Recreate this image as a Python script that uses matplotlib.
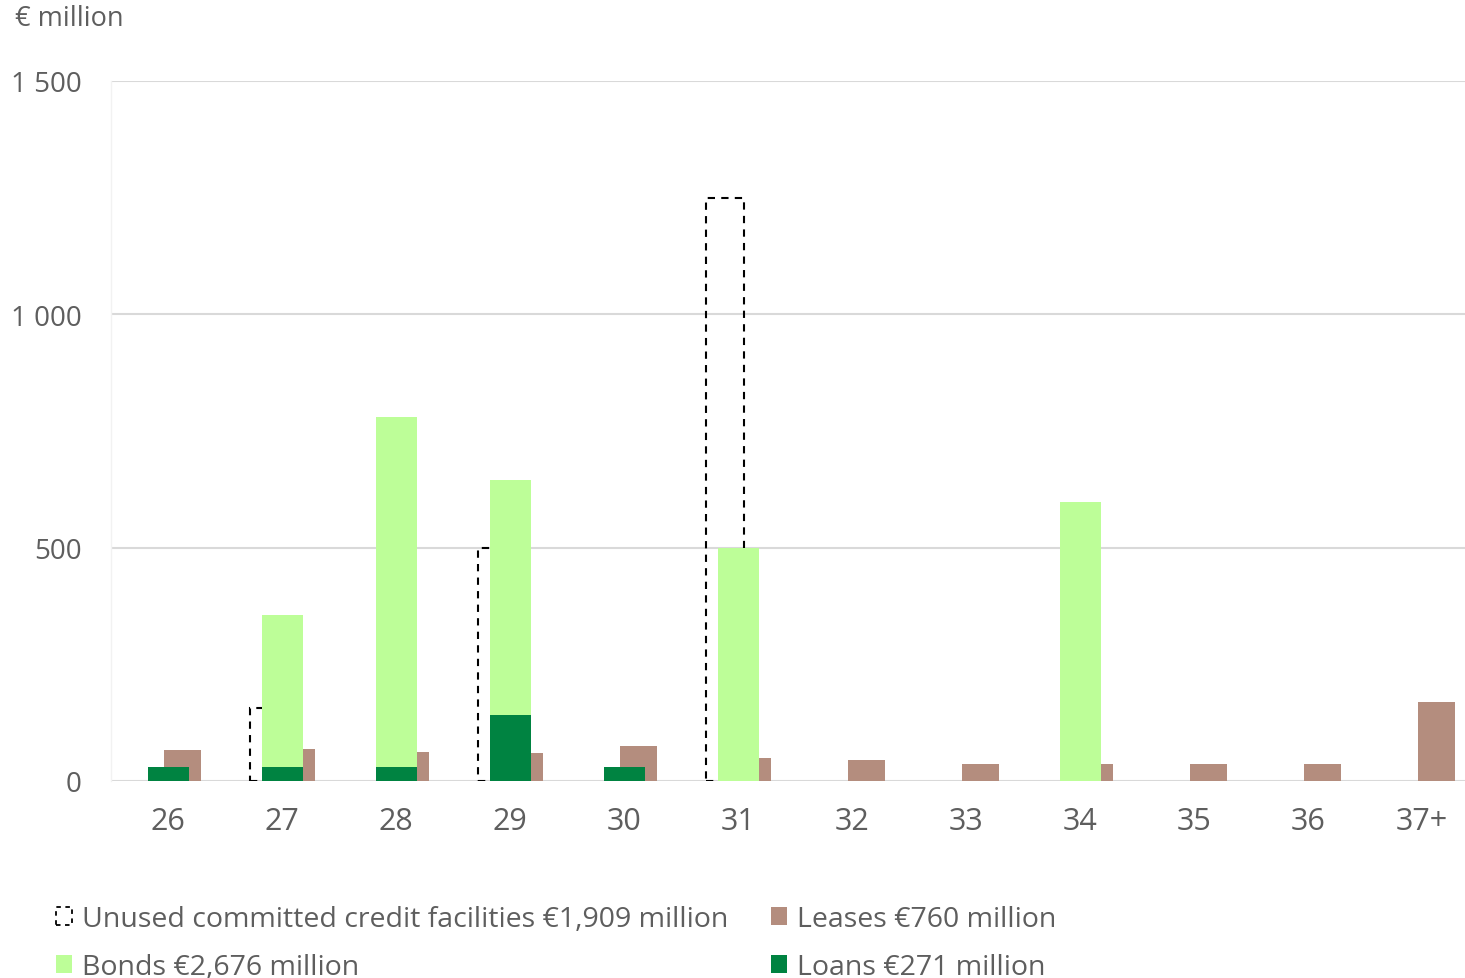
import numpy as np
import matplotlib.pyplot as plt
from matplotlib.patches import Patch
from matplotlib.ticker import FuncFormatter

# data (EUR million, maturity year)
years = ['26', '27', '28', '29', '30', '31', '32', '33', '34', '35', '36', '37+']
unused = [0, 156, 0, 500, 0, 1250, 0, 0, 0, 0, 0, 0]
loans = [31, 30, 30, 142, 30, 0, 0, 0, 0, 0, 0, 0]
bonds = [0, 325, 750, 502, 0, 500, 0, 0, 598, 0, 0, 0]
leases = [67, 68, 63, 61, 76, 49, 45, 36, 36, 36, 36, 170]
legend_labels = ['Unused committed credit facilities €1,909 million',
                 'Bonds €2,676 million',
                 'Leases €760 million',
                 'Loans €271 million']

c_bonds = '#BDFE98'
c_loans = '#008341'
c_leases = '#B48D7E'
c_text = '#5E5E5E'
c_grid = '#D9D9D9'

plt.rcParams['font.family'] = ['Open Sans', 'DejaVu Sans']

fig = plt.figure(figsize=(14.65, 9.79), dpi=100)
ax = fig.add_axes([111 / 1465, 197 / 979, 1 - 111 / 1465, 700 / 979])

x = np.arange(len(years))
# no outline where there is no facility
unused_drawn = np.where(np.array(unused) > 0, unused, np.nan)

# unused facilities: dashed outline, behind everything
ax.bar(x - 0.114, unused_drawn, width=0.333, facecolor='none', edgecolor='black',
       linestyle=(0, (3.5, 3)), linewidth=1.5, zorder=2)
ax.bar(x + 0.127, leases, width=0.325, color=c_leases, zorder=3)
ax.bar(x + 0.006, loans, width=0.356, color=c_loans, zorder=4)
ax.bar(x + 0.006, bonds, width=0.356, bottom=loans, color=c_bonds, zorder=4)

ax.set_xlim(-0.5, 11.377)
ax.set_ylim(0, 1500)
ax.set_yticks([0, 500, 1000, 1500])
ax.yaxis.set_major_formatter(FuncFormatter(lambda v, p: f'{int(v):,}'.replace(',', ' ')))
ax.set_xticks(x)
ax.set_xticklabels(years)
ax.tick_params(length=0, labelcolor=c_text)
ax.tick_params(axis='y', pad=21, labelsize=20)
ax.tick_params(axis='x', pad=18, labelsize=22)

ax.grid(axis='y', color=c_grid, linewidth=1.5, zorder=0)
ax.set_axisbelow(True)
for s in ['top', 'right', 'bottom']:
    ax.spines[s].set_visible(False)
ax.spines['left'].set_color('#F2F2F2')
ax.spines['left'].set_linewidth(1)
ax.axhline(0, color=c_grid, linewidth=2, zorder=1)

fig.text(15 / 1465, 1 - 19 / 979, '€ million', fontsize=19.5, color=c_text, va='center')

handles = [Patch(facecolor='none', edgecolor='black', linestyle=(0, (2.5, 2.5)), linewidth=1.3),
           Patch(facecolor=c_bonds),
           Patch(facecolor=c_leases),
           Patch(facecolor=c_loans)]
fig.legend(handles, legend_labels, loc='upper left', bbox_to_anchor=(56 / 1465, 1 - 906 / 979),
           ncol=2, frameon=False, fontsize=20.5, labelcolor=c_text,
           handlelength=0.56, handleheight=0.56, handletextpad=0.36,
           columnspacing=1.5, labelspacing=0.7, borderaxespad=0, borderpad=0)

fig.savefig('out.png', dpi=100)
